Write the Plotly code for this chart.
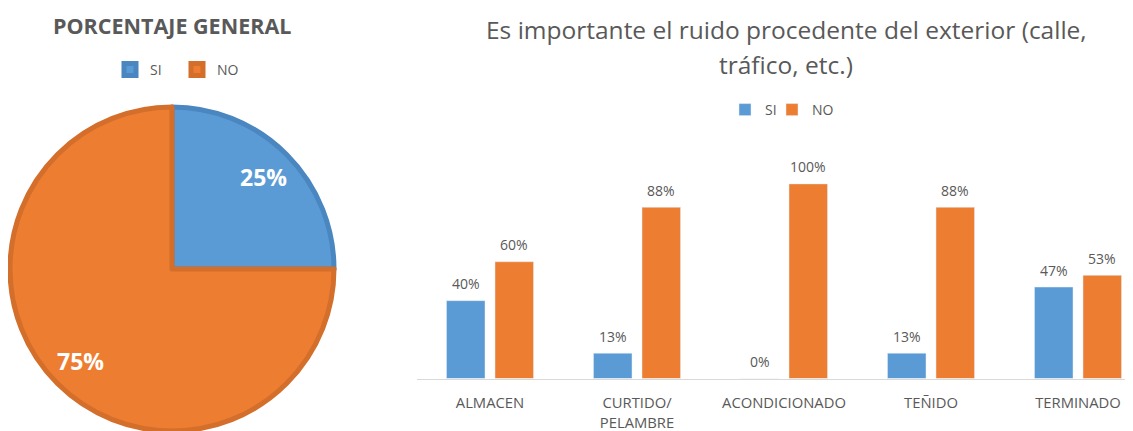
import math
import plotly.graph_objects as go

# ---- data ----
pie_labels = ["SI", "NO"]
pie_values = [25, 75]

categories = ["ALMACEN", "CURTIDO/<br>PELAMBRE", "ACONDICIONADO", "TEÑIDO", "TERMINADO"]
si_values = [40, 13, 0, 13, 47]
no_values = [60, 88, 100, 88, 53]

BLUE = "#5b9bd5"
ORANGE = "#ed7d31"
BLUE_EDGE = "#4a86c0"
ORANGE_EDGE = "#d46e2b"
GRAY = "#595959"
FONT = "Open Sans"

PAGE_W, PAGE_H = 1133, 431
OFF = 8  # default body margin of the page
W, H = PAGE_W - OFF, PAGE_H - OFF


def px(x):  # page x -> paper fraction
    return (x - OFF) / W


def py(y):  # page y -> paper fraction
    return 1 - (y - OFF) / H


fig = go.Figure()

# ---- pie ----
cx, cy, r = 172, 269, 162
fig.add_trace(go.Pie(
    labels=pie_labels, values=pie_values,
    sort=False, direction="clockwise", rotation=0,
    marker=dict(colors=[BLUE, ORANGE], line=dict(color=[BLUE_EDGE, ORANGE_EDGE], width=5)),
    textinfo="none",
    domain=dict(x=[px(cx - r), px(cx + r)], y=[max(0, py(cy + r)), py(cy - r)]),
    legend="legend2", hoverinfo="label+percent",
))

annotations = []
total = sum(pie_values)
cum = 0
for v in pie_values:
    mid = (cum + v / 2) / total
    cum += v
    ang = 2 * math.pi * mid
    lx = cx + 0.8 * r * math.sin(ang)
    ly = cy - 0.8 * r * math.cos(ang)
    annotations.append(dict(
        x=px(lx), y=py(ly), xref="paper", yref="paper", showarrow=False,
        text=f"{round(100 * v / total)}%", xanchor="center", yanchor="middle",
        font=dict(family=FONT, size=23, color="white", weight="bold")))

# ---- bars ----
fig.add_trace(go.Bar(name="SI", x=categories, y=si_values, marker_color=BLUE,
                     xaxis="x", yaxis="y", legend="legend"))
fig.add_trace(go.Bar(name="NO", x=categories, y=no_values, marker_color=ORANGE,
                     xaxis="x", yaxis="y", legend="legend3"))

plot_left = 416.5
baseline = 378.5
plot_top = 145
cat_step = 147
x_right = -0.5 + (PAGE_W - plot_left) / cat_step
bargap = 0.34
bargroupgap = 0.206
slot = cat_step * (1 - bargap) / 2

for vals, sgn in ((si_values, -1), (no_values, 1)):
    for c, v in zip(categories, vals):
        annotations.append(dict(
            x=c, y=v, xref="x", yref="y", text=f"{v}%", showarrow=False,
            xshift=sgn * slot / 2, yshift=17, yanchor="middle",
            font=dict(family=FONT, size=14, color=GRAY)))

# titles
annotations += [
    dict(x=px(172), y=py(26), xref="paper", yref="paper", showarrow=False,
         text="PORCENTAJE GENERAL", yanchor="middle", xanchor="center",
         font=dict(family=FONT, size=21.5, color=GRAY, weight="bold")),
    dict(x=px(786), y=py(30), xref="paper", yref="paper", showarrow=False,
         text="Es importante el ruido procedente del exterior (calle,", yanchor="middle", xanchor="center",
         font=dict(family=FONT, size=24.5, color=GRAY)),
    dict(x=px(786), y=py(65), xref="paper", yref="paper", showarrow=False,
         text="tráfico, etc.)", yanchor="middle", xanchor="center",
         font=dict(family=FONT, size=24.5, color=GRAY)),
]

legend_common = dict(orientation="h", xanchor="left", yanchor="middle",
                     font=dict(family=FONT, size=14, color=GRAY), itemwidth=30,
                     bgcolor="rgba(0,0,0,0)")

fig.update_layout(
    width=W, height=H,
    margin=dict(l=0, r=0, t=0, b=0),
    paper_bgcolor="white", plot_bgcolor="white",
    barmode="group", bargap=bargap, bargroupgap=bargroupgap,
    font=dict(family=FONT, color=GRAY),
    xaxis=dict(domain=[px(plot_left), 1], range=[-0.5, x_right], type="category",
               showline=True, linecolor="#d9d9d9", linewidth=1, showgrid=False,
               zeroline=False, ticks="", ticklabelstandoff=11,
               tickfont=dict(family=FONT, size=14.8, color=GRAY)),
    yaxis=dict(domain=[py(baseline), py(plot_top)], range=[0, 120],
               visible=False, showgrid=False, zeroline=False),
    legend=dict(x=px(725), y=py(110), **legend_common),
    legend3=dict(x=px(772), y=py(110), **legend_common),
    legend2=dict(x=px(110), y=py(70), entrywidth=22, **legend_common),
    annotations=annotations,
    showlegend=True,
)

fig.write_html("out.html")
